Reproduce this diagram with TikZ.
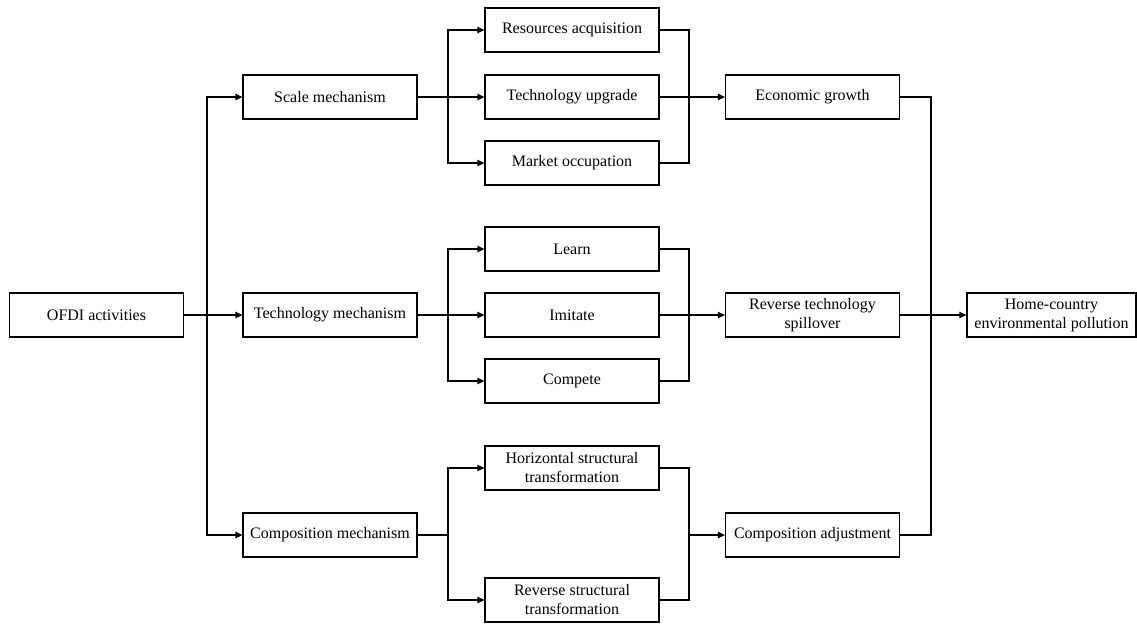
\documentclass[tikz,border=0pt]{standalone}
\usepackage{fontspec}
\setmainfont{Liberation Serif}
\usetikzlibrary{arrows.meta,positioning}
\tikzset{
  box/.style={draw, line width=0.6pt, minimum width=87pt, minimum height=22pt,
              inner sep=1pt, align=center, font=\fontsize{8}{9.5}\selectfont},
  link/.style={line width=0.6pt},
  arr/.style={link, -{Triangle[length=3.5pt,width=3.2pt]}}
}

\begin{document}
\begin{tikzpicture}[x=0.5pt,y=-0.5pt]
  \useasboundingbox (0,0) rectangle (1137,623);
  % Source
  \node[box] (ofdi) at (96.5,315) {OFDI activities};
  % Mechanisms
  \node[box] (scale) at (330,97) {Scale mechanism};
  \node[box] (tech) at (330,315) {Technology mechanism};
  \node[box] (comp) at (330,535) {Composition mechanism};
  % Channels
  \node[box] (res) at (572,30) {Resources acquisition};
  \node[box] (upg) at (572,97) {Technology upgrade};
  \node[box] (mkt) at (572,163) {Market occupation};
  \node[box] (learn) at (572,249) {Learn};
  \node[box] (imit) at (572,315) {Imitate};
  \node[box] (compete) at (572,381) {Compete};
  \node[box] (hor) at (572,468) {Horizontal structural\\transformation};
  \node[box] (rev) at (572,600) {Reverse structural\\transformation};
  % Effects
  \node[box] (growth) at (812.5,97) {Economic growth};
  \node[box] (spill) at (812.5,315) {Reverse technology\\spillover};
  \node[box] (adj) at (812.5,535) {Composition adjustment};
  \node[box, minimum width=84.5pt] (home) at (1051.5,315)
    {Home-country\\environmental pollution};
  % Branch and merge points
  \coordinate (b1) at (207,315);
  \coordinate (b2) at (448,97);
  \coordinate (b3) at (448,315);
  \coordinate (b4) at (448,535);
  \coordinate (m2) at (689,97);
  \coordinate (m3) at (689,315);
  \coordinate (m4) at (689,535);
  \coordinate (m5) at (931,315);
  % OFDI to mechanisms
  \draw[arr] (ofdi) -- (tech);
  \draw[arr] (b1) |- (scale);
  \draw[arr] (b1) |- (comp);
  % Scale mechanism
  \draw[arr] (scale) -- (upg);
  \draw[arr] (b2) |- (res);
  \draw[arr] (b2) |- (mkt);
  \draw[link] (res) -| (m2);
  \draw[link] (mkt) -| (m2);
  \draw[arr] (upg) -- (growth);
  % Technology mechanism
  \draw[arr] (tech) -- (imit);
  \draw[arr] (b3) |- (learn);
  \draw[arr] (b3) |- (compete);
  \draw[link] (learn) -| (m3);
  \draw[link] (compete) -| (m3);
  \draw[arr] (imit) -- (spill);
  % Composition mechanism
  \draw[link] (comp) -- (b4);
  \draw[arr] (b4) |- (hor);
  \draw[arr] (b4) |- (rev);
  \draw[link] (hor) -| (m4);
  \draw[link] (rev) -| (m4);
  \draw[arr] (m4) -- (adj);
  % Effects to pollution
  \draw[link] (growth) -| (m5);
  \draw[link] (adj) -| (m5);
  \draw[arr] (spill) -- (home);
\end{tikzpicture}
\end{document}
